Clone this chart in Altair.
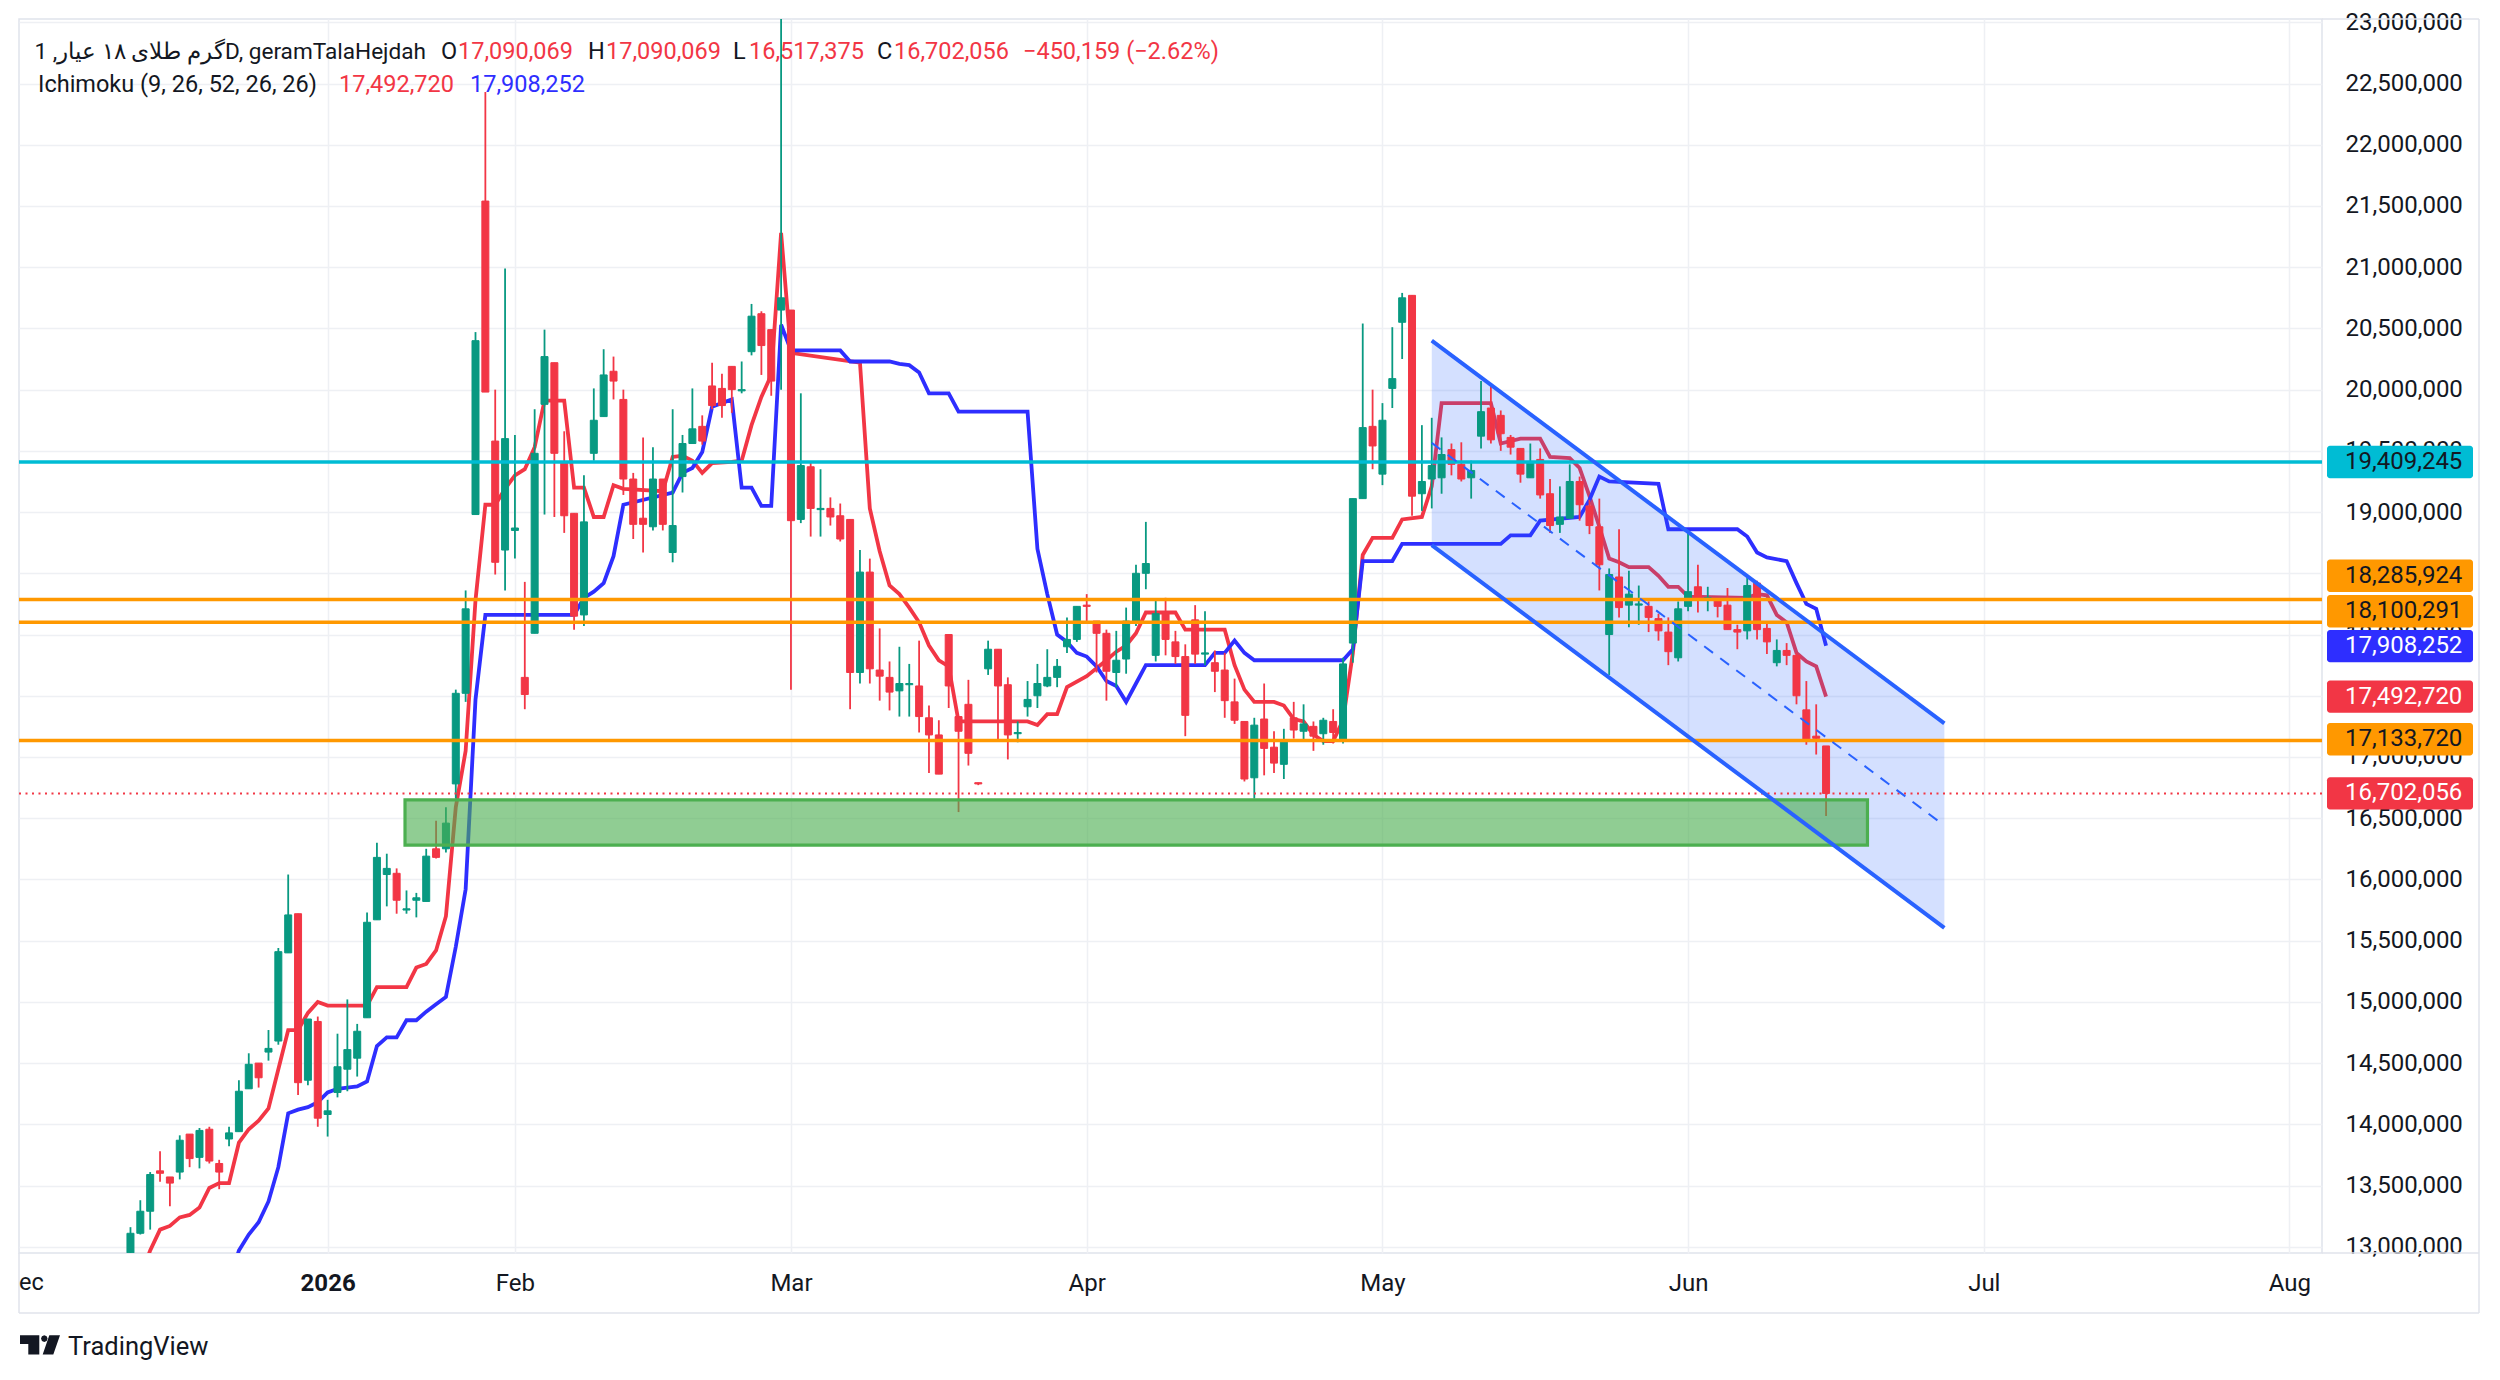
import altair as alt
import pandas as pd

# ---------------- data ----------------
# bar index: 0 = 1 Jan 2026, one bar per trading day; prices in millions of rial
bar = list(range(-20, 153))
open_ = [
    12.95, 13.11, 13.29, 13.62, 13.57, 13.61, 13.92, 13.73, 13.96, 13.68,   # -20..-11
    13.88, 13.94, 14.29, 14.50, 14.59, 14.68, 15.40, 15.72, 14.36, 14.84,   # -10..-1
    14.08, 14.26, 14.45, 14.54, 14.87, 15.67, 16.04, 16.05, 15.75, 15.83,   # 0..9
    15.82, 16.25, 16.25, 16.78, 17.52, 18.98, 21.54, 19.58, 18.69, 18.85,   # 10..19
    17.65, 18.01, 19.88, 20.22, 19.41, 18.99, 18.16, 19.48, 19.78, 20.15,   # 20..29
    19.92, 19.27, 18.95, 18.88, 19.27, 18.67, 19.29, 19.56, 19.70, 20.03,   # 30..39
    20.01, 20.19, 19.99, 20.31, 20.62, 20.49, 20.65, 20.65, 18.94, 19.37,   # 40..49
    19.02, 19.03, 18.97, 18.94, 17.69, 18.51, 17.71, 17.65, 17.54, 17.59,   # 50..59
    17.58, 17.32, 17.18, 18.00, 17.33, 17.43, 16.79, 17.72, 17.88, 17.59,   # 60..69
    17.19, 17.41, 17.50, 17.58, 17.65, 17.90, 17.96, 18.24, 18.11, 18.01,   # 70..79
    17.69, 17.80, 18.11, 18.50, 17.83, 18.18, 17.94, 17.82, 18.12, 17.84,   # 80..89
    17.77, 17.71, 17.45, 17.29, 16.83, 17.31, 17.08, 16.94, 17.32, 17.21,   # 90..99
    17.25, 17.19, 17.29, 17.14, 17.93, 19.11, 19.70, 19.31, 20.01, 20.55,   # 100..109
    20.77, 19.15, 19.27, 19.28, 19.51, 19.39, 19.28, 19.62, 19.85, 19.79,   # 110..119
    19.61, 19.52, 19.28, 19.43, 19.15, 18.90, 18.95, 19.25, 19.05, 18.88,   # 120..129
    18.00, 18.47, 18.24, 18.24, 18.23, 18.13, 18.02, 17.81, 18.23, 18.39,   # 130..139
    18.29, 18.29, 18.24, 18.04, 18.03, 18.42, 18.05, 17.77, 17.87, 17.83,   # 140..149
    17.385, 17.17, 17.090069,                                               # 150..152
]
high_ = [
    13.16, 13.38, 13.61, 13.78, 13.57, 13.91, 13.92, 13.97, 13.98, 13.71,
    13.98, 14.36, 14.58, 14.50, 14.77, 15.44, 16.04, 15.72, 14.86, 14.88,
    14.20, 14.74, 15.02, 14.82, 15.73, 16.30, 16.21, 16.09, 15.91, 15.89,
    16.25, 16.48, 16.59, 17.55, 18.36, 20.47, 22.43, 20.00, 20.99, 19.63,
    18.43, 19.84, 20.49, 20.22, 19.66, 18.99, 19.30, 20.01, 20.33, 20.27,
    20.00, 19.32, 19.61, 19.53, 19.27, 19.84, 19.63, 20.01, 19.79, 20.22,
    20.13, 20.19, 20.23, 20.70, 20.64, 20.49, 23.05, 20.65, 19.97, 19.41,
    19.35, 19.12, 19.07, 18.94, 18.69, 18.62, 18.05, 17.78, 17.90, 17.76,
    17.95, 17.42, 17.30, 18.00, 17.33, 17.63, 16.79, 17.95, 17.88, 17.65,
    17.29, 17.62, 17.76, 17.88, 17.80, 18.14, 18.23, 18.33, 18.11, 18.04,
    18.03, 18.22, 18.57, 18.92, 18.29, 18.30, 18.03, 17.92, 18.24, 18.19,
    17.87, 17.85, 17.64, 17.29, 17.32, 17.60, 17.21, 17.23, 17.45, 17.43,
    17.29, 17.32, 17.39, 17.81, 19.11, 20.54, 20.00, 19.89, 20.51, 20.79,
    20.77, 19.71, 19.77, 19.61, 19.56, 19.57, 19.42, 20.07, 20.04, 19.83,
    19.63, 19.52, 19.56, 19.52, 19.27, 19.21, 19.39, 19.29, 19.10, 19.11,
    18.54, 18.86, 18.52, 18.40, 18.27, 18.17, 18.14, 18.27, 18.85, 18.57,
    18.39, 18.29, 18.38, 18.08, 18.47, 18.44, 18.11, 17.96, 17.93, 17.85,
    17.62, 17.43, 17.090069,
]
low_ = [
    12.90, 13.10, 13.14, 13.53, 13.33, 13.55, 13.65, 13.64, 13.68, 13.47,
    13.82, 13.94, 14.29, 14.30, 14.52, 14.65, 15.40, 14.24, 14.32, 13.98,
    13.90, 14.22, 14.27, 14.39, 14.87, 15.67, 15.78, 15.72, 15.72, 15.69,
    15.82, 16.17, 16.22, 16.66, 17.45, 18.98, 19.98, 18.49, 18.36, 18.62,
    17.39, 18.01, 18.98, 18.96, 18.83, 18.04, 18.07, 19.42, 19.78, 19.92,
    19.14, 18.78, 18.67, 18.85, 18.85, 18.59, 19.16, 19.56, 19.55, 19.84,
    19.77, 19.81, 19.97, 20.28, 20.12, 19.95, 20.00, 17.55, 18.91, 18.80,
    18.80, 18.89, 18.76, 17.39, 17.60, 17.60, 17.46, 17.38, 17.33, 17.33,
    17.20, 16.87, 16.86, 17.40, 16.55, 16.93, 16.77, 17.67, 17.13, 16.98,
    17.12, 17.33, 17.40, 17.57, 17.57, 17.85, 17.94, 18.11, 17.69, 17.46,
    17.57, 17.68, 18.07, 18.37, 17.78, 17.83, 17.76, 17.17, 17.76, 17.75,
    17.53, 17.32, 17.27, 16.80, 16.66, 16.85, 16.87, 16.82, 17.15, 17.14,
    17.05, 17.10, 17.11, 17.11, 17.77, 19.11, 19.35, 19.22, 19.85, 20.25,
    18.97, 19.01, 19.03, 19.15, 19.30, 19.25, 19.11, 19.52, 19.56, 19.50,
    19.47, 19.24, 19.28, 19.11, 18.83, 18.83, 18.95, 18.93, 18.82, 18.36,
    17.67, 18.14, 18.06, 18.08, 18.02, 17.95, 17.75, 17.78, 18.19, 18.18,
    18.19, 18.14, 18.04, 17.88, 17.96, 17.96, 17.84, 17.74, 17.75, 17.43,
    17.10, 17.02, 16.517375,
]
close_ = [
    13.11, 13.29, 13.59, 13.60, 13.52, 13.87, 13.72, 13.95, 13.70, 13.61,
    13.93, 14.27, 14.49, 14.38, 14.62, 15.41, 15.71, 14.34, 14.86, 14.05,
    14.11, 14.47, 14.61, 14.76, 15.65, 16.18, 16.09, 15.83, 15.76, 15.85,
    16.19, 16.18, 16.46, 17.52, 18.21, 20.40, 19.98, 18.59, 19.60, 18.87,
    17.51, 19.48, 20.27, 19.48, 18.97, 18.15, 18.92, 19.75, 20.12, 20.07,
    19.27, 18.90, 18.90, 19.27, 18.90, 18.89, 19.56, 19.68, 19.58, 19.87,
    19.87, 20.00, 20.00, 20.60, 20.36, 20.07, 20.75, 18.93, 19.38, 19.03,
    19.03, 18.96, 18.78, 17.69, 18.51, 17.72, 17.66, 17.53, 17.60, 17.60,
    17.33, 17.18, 16.86, 17.58, 17.21, 17.03, 16.78, 17.88, 17.58, 17.18,
    17.20, 17.47, 17.60, 17.65, 17.74, 17.96, 18.23, 18.23, 18.01, 17.70,
    17.79, 18.11, 18.50, 18.58, 18.17, 17.96, 17.82, 17.34, 17.84, 17.85,
    17.70, 17.46, 17.30, 16.82, 17.26, 17.07, 16.95, 17.13, 17.22, 17.27,
    17.17, 17.30, 17.20, 17.76, 19.11, 19.69, 19.54, 19.75, 20.09, 20.75,
    19.13, 19.25, 19.38, 19.47, 19.39, 19.27, 19.34, 19.82, 19.59, 19.64,
    19.53, 19.31, 19.41, 19.14, 18.89, 18.96, 19.25, 19.06, 18.89, 18.57,
    18.49, 18.22, 18.33, 18.25, 18.14, 18.03, 17.86, 18.21, 18.35, 18.29,
    18.30, 18.23, 18.04, 18.02, 18.40, 18.04, 17.94, 17.87, 17.83, 17.50,
    17.14, 17.152215, 16.702056,
]

# Ichimoku conversion line (red) vertices
tenkan_i = [-19, -18, -17, -16, -15, -14, -13, -12, -11, -10, -9, -8, -7, -6, -5, -4, -3, -2, -1,
            0, 4, 5, 8, 9, 10, 11, 12, 13, 14, 15, 16, 17, 18, 19, 20, 21, 22, 24, 25, 26, 27,
            28, 29, 30, 34, 35, 36, 37, 38, 39, 41, 42, 43, 44, 45, 46, 47, 54, 55, 56, 57, 58,
            59, 60, 61, 62, 63, 64, 71, 72, 73, 74, 75, 77, 79, 80, 81, 82, 83, 86, 87, 91, 92,
            93, 94, 96, 97, 98, 99, 100, 101, 102, 103, 104, 105, 106, 108, 109, 111, 112, 113,
            118, 119, 121, 123, 124, 126, 127, 128, 129, 130, 131, 132, 134, 135, 136, 137, 138,
            144, 145, 146, 147, 148, 149, 150, 151, 152]
tenkan_v = [12.75, 12.97, 13.14, 13.17, 13.24, 13.26, 13.32, 13.48, 13.52, 13.52, 13.85, 13.96,
            14.03, 14.13, 14.45, 14.77, 14.77, 14.91, 15.00, 14.97, 14.97, 15.12, 15.12, 15.28,
            15.31, 15.42, 15.70, 16.59, 17.05, 18.28, 19.06, 19.06, 19.19, 19.30, 19.35, 19.53,
            19.91, 19.91, 19.20, 19.20, 18.96, 18.96, 19.22, 19.19, 19.17, 19.45, 19.46, 19.42,
            19.32, 19.40, 19.41, 19.42, 19.71, 19.94, 20.12, 21.28, 20.30, 20.22, 19.03, 18.68,
            18.40, 18.33, 18.22, 18.10, 17.91, 17.79, 17.74, 17.29, 17.29, 17.26, 17.35, 17.35,
            17.57, 17.66, 17.79, 17.86, 17.91, 18.01, 18.18, 18.18, 18.04, 18.04, 17.75, 17.55,
            17.45, 17.45, 17.42, 17.31, 17.29, 17.18, 17.13, 17.13, 17.30, 17.85, 18.65, 18.79,
            18.79, 18.94, 18.96, 19.21, 19.89, 19.89, 19.56, 19.60, 19.60, 19.45, 19.44, 19.36,
            19.13, 18.88, 18.62, 18.59, 18.55, 18.55, 18.48, 18.39, 18.39, 18.31, 18.30, 18.33,
            18.32, 18.16, 18.10, 17.85, 17.78, 17.74, 17.49272]

# Ichimoku base line (blue) vertices
kijun_i = [-10, -9, -8, -7, -6, -5, -4, -3, -2, -1, 0, 1, 2, 3, 4, 5, 6, 7, 8, 9, 10, 11, 12, 13,
           14, 15, 16, 25, 26, 27, 28, 29, 30, 35, 36, 37, 38, 39, 41, 42, 43, 44, 45, 46, 47,
           52, 53, 57, 58, 59, 60, 61, 63, 64, 71, 72, 73, 74, 75, 76, 77, 78, 79, 80, 81, 82,
           83, 89, 90, 91, 92, 93, 94, 103, 104, 105, 108, 109, 119, 120, 122, 123, 127, 128,
           129, 130, 135, 136, 143, 144, 145, 146, 148, 149, 150, 151, 152]
kijun_v = [12.70, 12.97, 13.10, 13.20, 13.37, 13.65, 14.09, 14.12, 14.14, 14.18, 14.26, 14.29,
           14.30, 14.31, 14.35, 14.64, 14.71, 14.71, 14.85, 14.85, 14.92, 14.98, 15.04, 15.45,
           15.92, 17.47, 18.16, 18.16, 18.30, 18.35, 18.42, 18.64, 19.06, 19.16, 19.32, 19.36,
           19.49, 19.86, 19.92, 19.20, 19.20, 19.05, 19.05, 20.53, 20.32, 20.32, 20.23, 20.23,
           20.21, 20.20, 20.14, 19.97, 19.97, 19.82, 19.82, 18.70, 18.33, 18.00, 17.94, 17.85,
           17.82, 17.74, 17.62, 17.58, 17.45, 17.60, 17.75, 17.75, 17.85, 17.85, 17.95, 17.85,
           17.79, 17.79, 17.88, 18.60, 18.60, 18.74, 18.74, 18.81, 18.81, 18.93, 18.96, 19.10,
           19.29, 19.25, 19.23, 18.86, 18.86, 18.80, 18.67, 18.63, 18.60, 18.42, 18.25, 18.21,
           17.908252]

# horizontal levels
level_values = [19409245, 18285924, 18100291, 17133720]
level_kind = ["cyan", "orange", "orange", "orange"]
last_price = 16702056

# demand zone (green box) and descending channel
zone_i = [7.85, 156.2]
zone_price = [16.28, 16.65]
channel_i = [112, 164]
channel_upper = [20.40, 17.275]
channel_lower = [18.73, 15.605]

# price tags on the right axis
tag_text = ["19,409,245", "18,285,924", "18,100,291", "17,908,252", "17,492,720", "17,133,720", "16,702,056"]
tag_price = [19.409245, 18.48, 18.19, 17.905, 17.4927, 17.145, 16.702056]
tag_kind = ["cyan", "orange", "orange", "blue", "red", "orange", "red"]

# axis ticks
month_idx = [0, 19, 47, 77, 107, 138, 168, 199]
month_lbl = ["2026", "Feb", "Mar", "Apr", "May", "Jun", "Jul", "Aug"]
price_ticks = [13000000 + 500000 * k for k in range(21)]

# ---------------- styles ----------------
UP, DOWN = "#089981", "#F23645"
RED, BLUE = "#F23645", "#2E2EFF"
CYAN, ORANGE, CHAN = "#00BCD4", "#FF9800", "#2962FF"
DARK, GRID, FRAME = "#131722", "#EEF0F4", "#E0E3EB"
FONT = "Roboto"
KIND_FILL = {"cyan": CYAN, "orange": ORANGE, "blue": BLUE, "red": RED}
KIND_TEXT = {"cyan": DARK, "orange": DARK, "blue": "#FFFFFF", "red": "#FFFFFF"}

W, H = 2303, 1234
M = 1e6

candles = pd.DataFrame({"i": bar,
                        "o": [v * M for v in open_], "h": [v * M for v in high_],
                        "l": [v * M for v in low_], "c": [v * M for v in close_]})
candles["dir"] = ["up" if c >= o else "down" for o, c in zip(candles.o, candles.c)]
tk = pd.DataFrame({"i": tenkan_i, "v": [v * M for v in tenkan_v]})
kj = pd.DataFrame({"i": kijun_i, "v": [v * M for v in kijun_v]})
levels = pd.DataFrame({"v": level_values, "col": [KIND_FILL[k] for k in level_kind]})
zone = pd.DataFrame({"x0": [zone_i[0]], "x1": [zone_i[1]],
                     "y0": [zone_price[0] * M], "y1": [zone_price[1] * M]})
chan = pd.DataFrame({"i": channel_i, "up": [v * M for v in channel_upper],
                     "lo": [v * M for v in channel_lower]})
tags = pd.DataFrame({"t": tag_text, "p": [v * M for v in tag_price],
                     "fill": [KIND_FILL[k] for k in tag_kind],
                     "tc": [KIND_TEXT[k] for k in tag_kind]})
one = pd.DataFrame({"a": [0]})

x_scale = alt.Scale(domain=[-30.8, 201.8], nice=False, zero=False)
y_scale = alt.Scale(domain=[12.949e6, 23.027e6], nice=False, zero=False)

label_expr = "".join(f"datum.value == {v} ? '{t}' : " for v, t in zip(month_idx, month_lbl)) + "''"
x_axis = alt.Axis(values=month_idx, labelExpr=label_expr, title=None, grid=True, gridColor=GRID,
                  gridWidth=1.5, tickSize=0, domain=False, labelFont=FONT, labelFontSize=24,
                  labelColor=DARK, labelPadding=30, labelBaseline="middle", labelOverlap=False,
                  labelFlush=False,
                  labelFontWeight={"condition": {"test": "datum.value == 0", "value": "bold"},
                                   "value": "normal"})
y_axis = alt.Axis(values=price_ticks, format=",.0f", orient="right", title=None, grid=True,
                  gridColor=GRID, gridWidth=1.5, tickSize=0, domain=False, labelFont=FONT,
                  labelFontSize=24, labelColor=DARK, labelAlign="left", labelPadding=23,
                  labelBaseline="middle", labelOverlap=False, labelFlush=False)


def X(f):
    return alt.X(f, type="quantitative", scale=x_scale, axis=x_axis)


def Y(f):
    return alt.Y(f, type="quantitative", scale=y_scale, axis=y_axis)


dir_scale = alt.Scale(domain=["up", "down"], range=[UP, DOWN])

layers = []
layers.append(alt.Chart(tk).mark_line(color=RED, strokeWidth=3.8, clip=True).encode(x=X("i"), y=Y("v")))
layers.append(alt.Chart(kj).mark_line(color=BLUE, strokeWidth=3.8, clip=True).encode(x=X("i"), y=Y("v")))
layers.append(alt.Chart(chan).mark_area(color=CHAN, opacity=0.2, clip=True).encode(
    x=X("i"), y=Y("lo"), y2=alt.Y2("up")))
layers.append(alt.Chart(candles).mark_rule(strokeWidth=1.8, clip=True).encode(
    x=X("i"), y=Y("l"), y2=alt.Y2("h"), color=alt.Color("dir:N", scale=dir_scale, legend=None)))
layers.append(alt.Chart(candles).mark_bar(size=7, strokeWidth=1, clip=True).encode(
    x=X("i"), y=Y("o"), y2=alt.Y2("c"),
    color=alt.Color("dir:N", scale=dir_scale, legend=None),
    stroke=alt.Stroke("dir:N", scale=dir_scale, legend=None)))
layers.append(alt.Chart(zone).mark_rect(fill="#4CAF50", fillOpacity=0.62, stroke="#4CAF50",
                                         strokeWidth=3.2, clip=True).encode(
    x=X("x0"), x2=alt.X2("x1"), y=Y("y0"), y2=alt.Y2("y1")))
layers.append(alt.Chart(levels).mark_rule(strokeWidth=3.5).encode(
    y=Y("v"), color=alt.Color("col:N", scale=None)))
layers.append(alt.Chart(pd.DataFrame({"v": [last_price]})).mark_rule(
    color=RED, strokeWidth=2, strokeDash=[2, 4.5]).encode(y=Y("v")))
layers.append(alt.Chart(chan).transform_fold(["up", "lo"], as_=["side", "val"]).mark_line(
    color=CHAN, strokeWidth=4, clip=True).encode(x=X("i"), y=Y("val"), detail="side:N"))
layers.append(alt.Chart(chan).transform_calculate(mid="(datum.up + datum.lo) / 2").mark_line(
    color=CHAN, strokeWidth=2, strokeDash=[11, 9], clip=True).encode(x=X("i"), y=Y("mid")))

# price tags
layers.append(alt.Chart(tags).transform_calculate(
    p0="datum.p - 132000", p1="datum.p + 132000").mark_rect(cornerRadius=3).encode(
    x=alt.value(2308), x2=alt.value(2454), y=Y("p0"), y2=alt.Y2("p1"),
    color=alt.Color("fill:N", scale=None)))
layers.append(alt.Chart(tags).mark_text(align="left", baseline="middle", font=FONT, fontSize=24).encode(
    x=alt.value(2326), y=Y("p"), text="t:N", color=alt.Color("tc:N", scale=None)))

# frame lines
for x1, x2, y1, y2 in [(W, 2460, 0, 0), (2460, 2460, 0, 1294), (0, 2460, 1294, 1294),
                       (0, 0, H, 1294), (W, 2460, H, H)]:
    layers.append(alt.Chart(one).mark_rule(color=FRAME, strokeWidth=1.5).encode(
        x=alt.value(x1), x2=alt.value(x2), y=alt.value(y1), y2=alt.value(y2)))

# legend texts (x, y in pixels from the plot's top-left corner)
legend = [
    ("گرم طلای ۱۸ عیار, 1D, geramTalaHejdah", 407, 33, DARK, "right", 22.6),
    ("O", 422, 33, DARK, "left", 23.5), ("17,090,069", 439, 33, RED, "left", 23.5),
    ("H", 569, 33, DARK, "left", 23.5), ("17,090,069", 587, 33, RED, "left", 23.5),
    ("L", 714, 33, DARK, "left", 23.5), ("16,517,375", 730, 33, RED, "left", 23.5),
    ("C", 858, 33, DARK, "left", 23.5), ("16,702,056", 875, 33, RED, "left", 23.5),
    ("−450,159 (−2.62%)", 1004, 33, RED, "left", 23.5),
    ("Ichimoku (9, 26, 52, 26, 26)", 19, 66, DARK, "left", 23.5),
    ("17,492,720", 320, 66, RED, "left", 23.5), ("17,908,252", 451, 66, BLUE, "left", 23.5),
    ("ec", 0, H + 30, DARK, "left", 23.5),
]
for t, px, py, col, al, fs in legend:
    layers.append(alt.Chart(one).mark_text(align=al, baseline="middle", font=FONT,
                                            fontSize=fs, color=col, text=t).encode(
        x=alt.value(px), y=alt.value(py)))

# TradingView logo
logo_path = ("M-1,-0.485 L-0.035,-0.485 L-0.035,0.48 L-0.585,0.48 L-0.585,-0.05 L-1,-0.05 Z "
             "M0.38,-0.32 L0.332,-0.203 L0.215,-0.155 L0.098,-0.203 L0.05,-0.32 L0.098,-0.437 "
             "L0.215,-0.485 L0.332,-0.437 Z "
             "M0.465,-0.485 L1,-0.485 L0.665,0.48 L0.135,0.48 Z")
layers.append(alt.Chart(one).mark_point(shape=logo_path, filled=True, size=1600, color=DARK,
                                         opacity=1, strokeWidth=0).encode(
    x=alt.value(21), y=alt.value(1326)))
layers.append(alt.Chart(one).mark_text(align="left", baseline="alphabetic", font=FONT,
                                        fontSize=25.5, color=DARK, text="TradingView").encode(
    x=alt.value(49), y=alt.value(1336)))

chart = alt.layer(*layers).properties(
    width=W, height=H, background="#FFFFFF",
    autosize=alt.AutoSizeParams(type="none"),
    padding={"left": 19, "top": 19, "right": 178, "bottom": 127},
).configure_view(stroke=FRAME, strokeWidth=1.5)

chart.save("out.html", embed_options={"renderer": "svg", "actions": False})
